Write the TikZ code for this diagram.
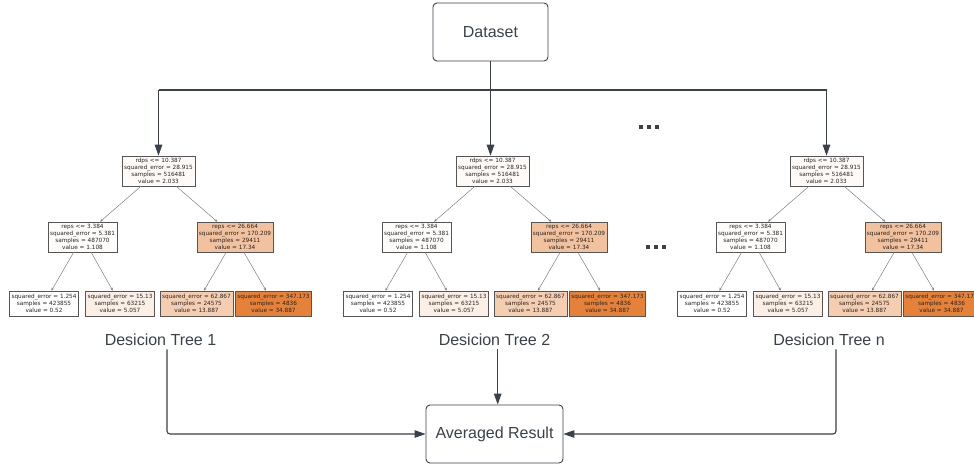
\documentclass[tikz,border=0pt]{standalone}
\usepackage{fontspec}
\setmainfont{Liberation Sans}
\newfontfamily\treefont{DejaVu Sans}
\usetikzlibrary{arrows.meta}

\definecolor{ink}{HTML}{3A414A}
\definecolor{leafbase}{HTML}{E58139}
\definecolor{treeedge}{HTML}{808080}
\definecolor{treeborder}{HTML}{555555}

\tikzset{
  flowbox/.style={draw=ink, line width=0.9pt, rounded corners=4pt, text=ink,
    font=\fontsize{16}{19}\selectfont, inner sep=0pt},
  flowlabel/.style={text=ink, font=\fontsize{16}{19}\selectfont, inner sep=0pt},
  conn/.style={draw=ink, line width=1.1pt},
  flowarrow/.style={conn, -{Triangle[length=11pt,width=7.5pt]}},
  tnode/.style={draw=treeborder, line width=0.6pt, align=center,
    font=\treefont\fontsize{5.75}{6.9}\selectfont, text=black!85,
    inner xsep=2pt, inner ysep=0pt},
  splitbox/.style={tnode, minimum height=30pt},
  leafbox/.style={tnode, minimum height=25pt},
  tedge/.style={draw=treeedge, line width=0.5pt, -{Stealth[length=3pt,width=2.6pt]}},
  dotsq/.style={fill=ink},
}

\begin{document}
\begin{tikzpicture}[x=1pt, y=-1pt]
  \clip (0,0) rectangle (974,466);
  \fill[white] (0,0) rectangle (974,466);

  % three copies of the fitted regression tree
  \foreach \i/\dx in {1/0, 2/334, 3/668} {
    \begin{scope}[xshift=\dx pt, name prefix=t\i-]
      \node[splitbox, fill=leafbase!4!white] (root) at (158.5,171)
        {rdps <= 10.387\\squared\_error = 28.915\\samples = 516481\\value = 2.033};
      \node[splitbox, fill=leafbase!2!white] (l) at (82.5,237)
        {reps <= 3.384\\squared\_error = 5.381\\samples = 487070\\value = 1.108};
      \node[splitbox, fill=leafbase!49!white] (r) at (235,237)
        {reps <= 26.664\\squared\_error = 170.209\\samples = 29411\\value = 17.34};
      \node[leafbox, fill=white] (ll) at (44,303.5)
        {squared\_error = 1.254\\samples = 423855\\value = 0.52};
      \node[leafbox, fill=leafbase!13!white] (lr) at (120,303.5)
        {squared\_error = 15.13\\samples = 63215\\value = 5.057};
      \node[leafbox, fill=leafbase!39!white] (rl) at (196.5,303.5)
        {squared\_error = 62.867\\samples = 24575\\value = 13.887};
      \node[leafbox, fill=leafbase] (rr) at (273.5,303.5)
        {squared\_error = 347.173\\samples = 4836\\value = 34.887};
      \draw[tedge] (root) -- (l);
      \draw[tedge] (root) -- (r);
      \draw[tedge] (l) -- (ll);
      \draw[tedge] (l) -- (lr);
      \draw[tedge] (r) -- (rl);
      \draw[tedge] (r) -- (rr);
    \end{scope}
  }

  % flow boxes and labels
  \node[flowbox, minimum width=115pt, minimum height=58pt] (ds) at (490.5,32) {Dataset};
  \node[flowbox, minimum width=137pt, minimum height=58pt] (avg) at (494.5,434) {Averaged Result};
  \node[flowlabel, anchor=base] (lab1) at (160.5,345) {Desicion Tree 1};
  \node[flowlabel, anchor=base] (lab2) at (494.5,345) {Desicion Tree 2};
  \node[flowlabel, anchor=base] (lab3) at (829,345) {Desicion Tree n};

  % dataset fans out to every tree
  \coordinate (bus) at (490.5,90);
  \draw[conn] (ds.south) -- (bus);
  \draw[conn] (bus -| t1-root.north) -- (bus -| t3-root.north);
  \draw[flowarrow] (bus -| t1-root.north) -- (t1-root.north);
  \draw[flowarrow] (bus) -- (bus |- t2-root.north);
  \draw[flowarrow] (bus -| t3-root.north) -- (t3-root.north);

  % tree outputs gathered into the average
  \draw[flowarrow, rounded corners=3pt] ([xshift=6.5pt,yshift=-4pt]lab1.south) |- (avg.west);
  \draw[flowarrow] ([xshift=3.2pt,yshift=-4pt]lab2.south) -- ([xshift=3.2pt]lab2.south |- avg.north);
  \draw[flowarrow, rounded corners=3pt] ([xshift=7pt,yshift=-4pt]lab3.south) |- (avg.east);

  % ellipsis marks between the trees
  \foreach \x in {639, 647, 655} \fill[dotsq] (\x,125) rectangle ++(4,4);
  \foreach \x in {645.7, 653.7, 661.7} \fill[dotsq] (\x,244.7) rectangle ++(4,4);
\end{tikzpicture}
\end{document}
